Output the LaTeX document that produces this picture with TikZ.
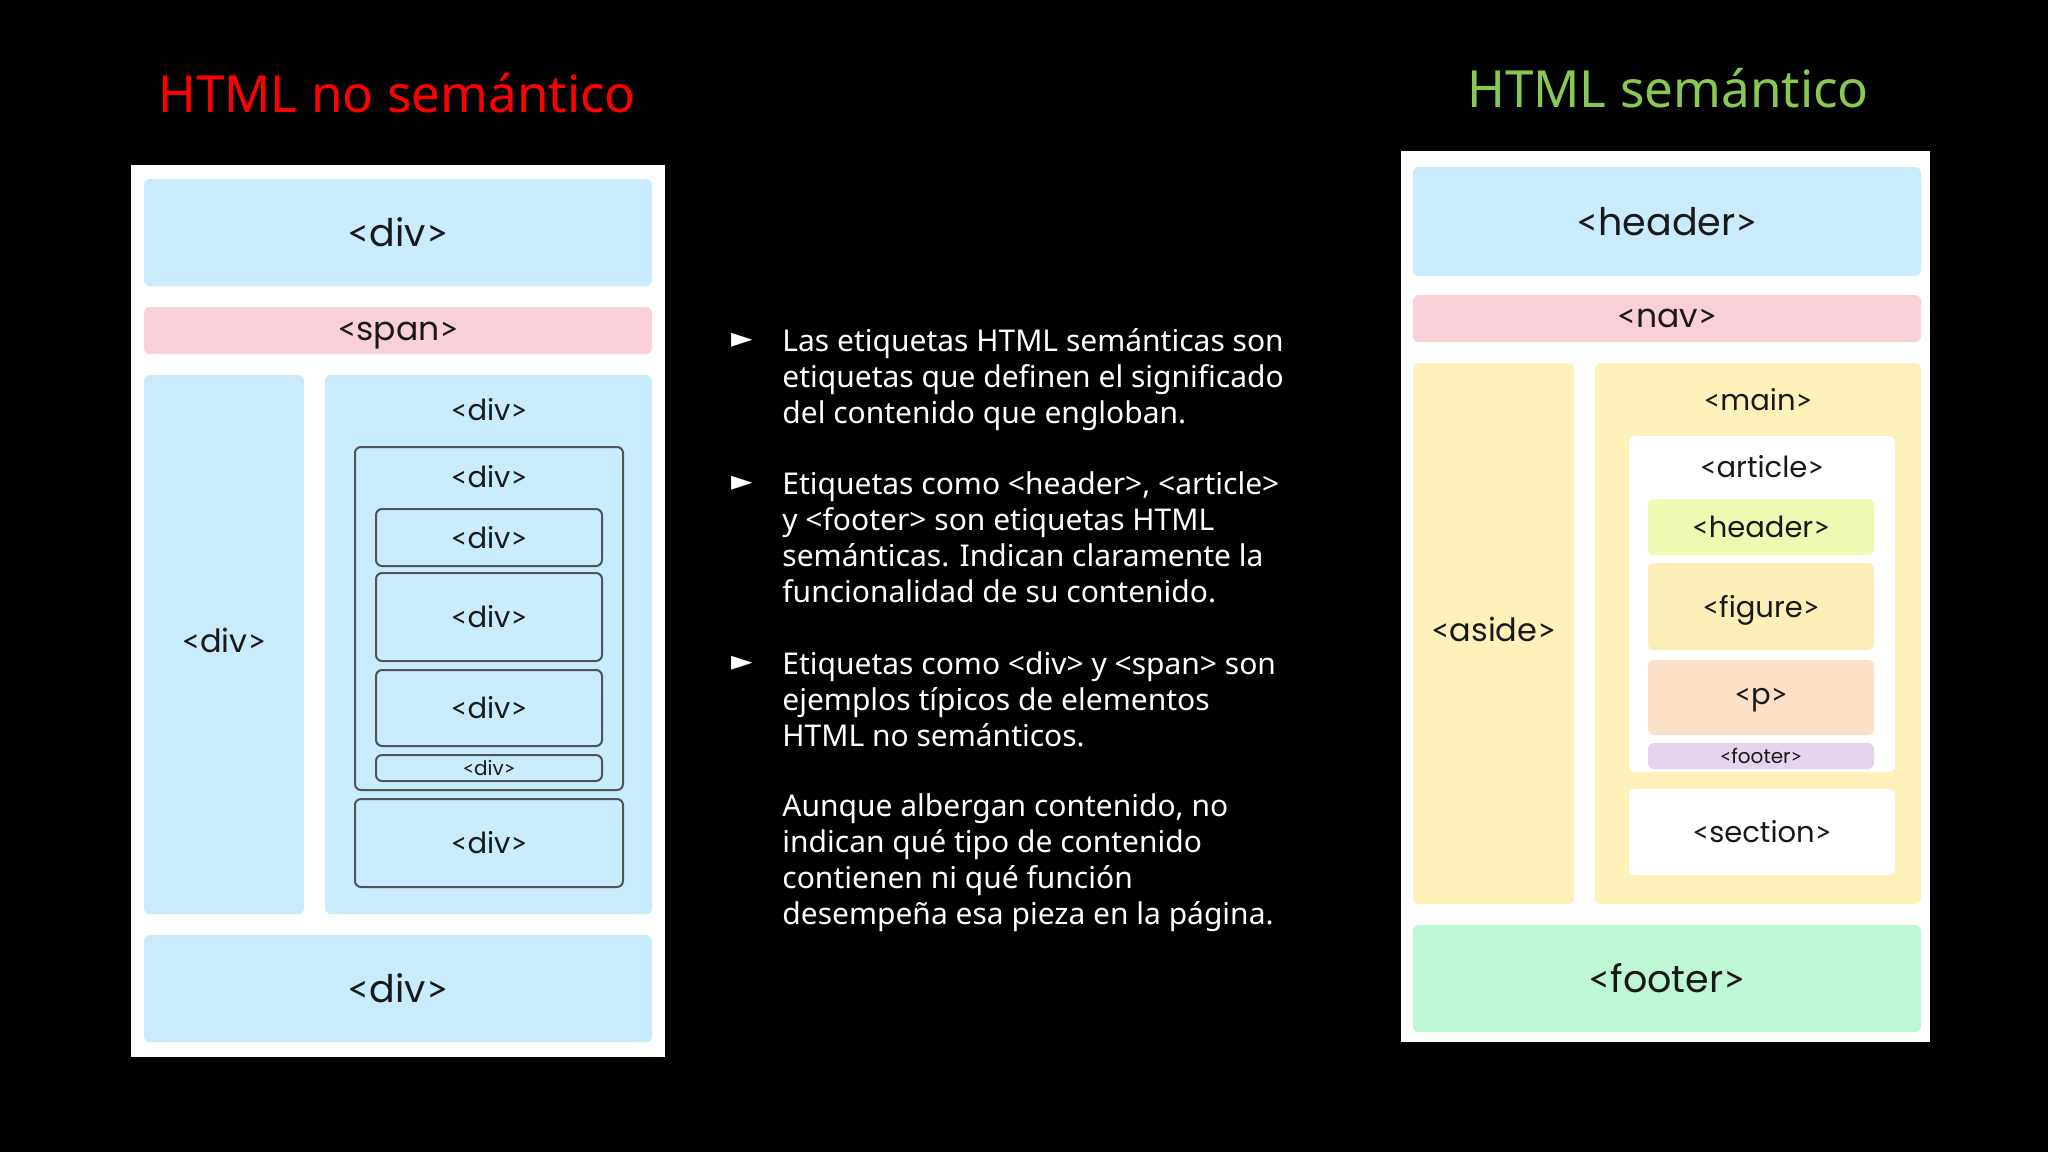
\documentclass[tikz,border=0pt]{standalone}
\usepackage{fontspec}
\setmainfont{Noto Sans}
\newfontfamily\boxfont{Poppins}[Ligatures=NoCommon]
\newfontfamily\brfont{Lato}
\newfontfamily\symfont{DejaVu Sans}
\newcommand\htag[1]{{\brfont<}#1{\brfont>}}
\usetikzlibrary{fit}
\definecolor{lblue}{RGB}{200,236,251}
\definecolor{lpink}{RGB}{249,208,216}
\definecolor{lyellow}{RGB}{254,241,186}
\definecolor{llime}{RGB}{236,250,178}
\definecolor{lfig}{RGB}{252,238,183}
\definecolor{lpeach}{RGB}{252,224,200}
\definecolor{llav}{RGB}{230,211,236}
\definecolor{lmint}{RGB}{190,247,214}
\definecolor{titred}{RGB}{255,0,0}
\definecolor{titgreen}{RGB}{137,201,82}
\definecolor{lbltxt}{RGB}{25,25,25}
\definecolor{outl}{RGB}{80,84,88}
\begin{document}
\begin{tikzpicture}[x=0.5pt,y=-0.5pt,
  panel/.style={fill=white,inner sep=0pt},
  blk/.style={inner sep=0pt,rounded corners=3pt},
  obox/.style={inner sep=0pt,rounded corners=3pt,draw=outl,line width=1pt},
  fbig/.style={font=\boxfont\fontsize{19}{22}\selectfont},
  fbar/.style={font=\boxfont\fontsize{16.5}{20}\selectfont},
  fcol/.style={font=\boxfont\fontsize{16}{19}\selectfont},
  fmed/.style={font=\boxfont\fontsize{14.5}{17}\selectfont},
  fsml/.style={font=\boxfont\fontsize{10}{12}\selectfont},
  lbl/.style={inner sep=0pt,text=lbltxt},
  title/.style={anchor=base,inner sep=0pt,font=\fontsize{25.6}{30}\selectfont},
  txt/.style={anchor=base west,inner sep=0pt,text=white,font=\fontsize{15}{18}\selectfont},
  bul/.style={inner sep=0pt,text=white,font=\symfont\fontsize{14}{16}\selectfont}]
\useasboundingbox (0,0) rectangle (2048,1152);
\fill[black] (0,0) rectangle (2048,1152);

% titles
\node[title,text=titred] (tleft) at (397,112) {HTML no semántico};
\node[title,text=titgreen] (tright) at (1668,107) {HTML semántico};

% left panel
\node[panel,fit={(131,165)(665,1057)}] (lpanel) {};
\node[blk,fill=lblue,fit={(144,179)(652,286)}] (ldivtop) {};
\node[lbl,fbig] at (ldivtop.center) {\htag{div}};
\node[blk,fill=lpink,fit={(144,307)(652,354)}] (lspan) {};
\node[lbl,fbar,yshift=-2.5pt] at (lspan.center) {\htag{span}};
\node[blk,fill=lblue,fit={(144,375)(304,914)}] (lcol) {};
\node[lbl,fcol,yshift=2pt] at (lcol.center) {\htag{div}};
\node[blk,fill=lblue,fit={(325,375)(652,914)}] (rcol) {};
\node[lbl,fmed] (rcollbl) at (489,410) {\htag{div}};
\node[obox,fit={(355,447)(623,790)}] (ob1) {};
\node[lbl,fmed] (ob1lbl) at (489,477) {\htag{div}};
\node[obox,fit={(376,509)(602,566)}] (ia) {};
\node[lbl,fmed] at (ia.center) {\htag{div}};
\node[obox,fit={(376,573)(602,661)}] (ib) {};
\node[lbl,fmed] at (ib.center) {\htag{div}};
\node[obox,fit={(376,670)(602,746)}] (ic) {};
\node[lbl,fmed] at (ic.center) {\htag{div}};
\node[obox,fit={(376,755)(602,781)}] (id) {};
\node[lbl,fsml] at (id.center) {\htag{div}};
\node[obox,fit={(355,799)(623,887)}] (ob2) {};
\node[lbl,fmed] at (ob2.center) {\htag{div}};
\node[blk,fill=lblue,fit={(144,935)(652,1042)}] (ldivbot) {};
\node[lbl,fbig] at (ldivbot.center) {\htag{div}};

% right panel
\node[panel,fit={(1401,151)(1930,1042)}] (rpanel) {};
\node[blk,fill=lblue,fit={(1413,167)(1921,276)}] (rheader) {};
\node[lbl,fbig] at (rheader.center) {\htag{header}};
\node[blk,fill=lpink,fit={(1413,295)(1921,342)}] (rnav) {};
\node[lbl,fbar] at (rnav.center) {\htag{nav}};
\node[blk,fill=lyellow,fit={(1413,363)(1574,904)}] (raside) {};
\node[lbl,fcol,yshift=2pt] at (raside.center) {\htag{aside}};
\node[blk,fill=lyellow,fit={(1595,363)(1921,904)}] (rmain) {};
\node[lbl,fmed] (rmainlbl) at (1758,400) {\htag{main}};
\node[blk,fill=white,fit={(1629,436)(1895,772)}] (rart) {};
\node[lbl,fmed] (rartlbl) at (1762,467) {\htag{article}};
\node[blk,fill=llime,fit={(1648,499)(1874,555)}] (rihdr) {};
\node[lbl,fmed] at (rihdr.center) {\htag{header}};
\node[blk,fill=lfig,fit={(1648,563)(1874,650)}] (rfig) {};
\node[lbl,fmed,yshift=-2pt] at (rfig.center) {\htag{figure}};
\node[blk,fill=lpeach,fit={(1648,660)(1874,735)}] (rp) {};
\node[lbl,fmed,yshift=-1.5pt] at (rp.center) {\htag{p}};
\node[blk,fill=llav,fit={(1648,743)(1874,769)}] (rifoot) {};
\node[lbl,fsml] at (rifoot.center) {\htag{footer}};
\node[blk,fill=white,fit={(1629,789)(1895,875)}] (rsec) {};
\node[lbl,fmed] at (rsec.center) {\htag{section}};
\node[blk,fill=lmint,fit={(1413,925)(1921,1032)}] (rfoot) {};
\node[lbl,fbig] at (rfoot.center) {\htag{footer}};

% bullets
\node[bul] (b1) at (742,340) {►};
\node[bul] (b2) at (742,483) {►};
\node[bul] (b3) at (742,663) {►};

% text
\node[txt] (l1) at (782,351) {Las etiquetas HTML semánticas son};
\node[txt] (l2) at (782,387) {etiquetas que definen el significado};
\node[txt] (l3) at (782,423) {del contenido que engloban.};
\node[txt] (l4) at (782,494) {Etiquetas como <header>, <article>};
\node[txt] (l5) at (782,530) {y <footer> son etiquetas HTML};
\node[txt] (l6) at (782,566) {semánticas. Indican claramente la};
\node[txt] (l7) at (782,602) {funcionalidad de su contenido.};
\node[txt] (l8) at (782,674) {Etiquetas como <div> y <span> son};
\node[txt] (l9) at (782,710) {ejemplos típicos de elementos};
\node[txt] (l10) at (782,746) {HTML no semánticos.};
\node[txt] (l11) at (782,816) {Aunque albergan contenido, no};
\node[txt] (l12) at (782,852) {indican qué tipo de contenido};
\node[txt] (l13) at (782,888) {contienen ni qué función};
\node[txt] (l14) at (782,924) {desempeña esa pieza en la página.};
\end{tikzpicture}
\end{document}
